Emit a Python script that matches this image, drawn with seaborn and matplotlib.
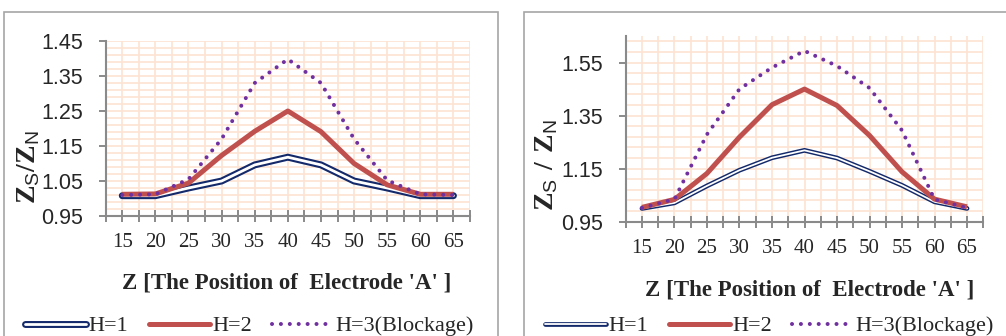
import numpy as np
import pandas as pd
import matplotlib
matplotlib.use('Agg')
import matplotlib.pyplot as plt
import seaborn as sns
from matplotlib.lines import Line2D
from matplotlib.patches import Rectangle
from matplotlib.ticker import FixedLocator, FormatStrFormatter

# ---------------- data ----------------
z_positions = [15, 20, 25, 30, 35, 40, 45, 50, 55, 60, 65]
left_h1 = [1.008, 1.008, 1.030, 1.050, 1.096, 1.118, 1.096, 1.050, 1.030, 1.008, 1.008]
left_h2 = [1.012, 1.013, 1.044, 1.123, 1.192, 1.250, 1.191, 1.100, 1.039, 1.012, 1.012]
left_h3 = [1.010, 1.012, 1.055, 1.170, 1.330, 1.398, 1.330, 1.170, 1.052, 1.012, 1.010]
right_h1 = [1.000, 1.021, 1.085, 1.144, 1.191, 1.219, 1.190, 1.140, 1.087, 1.025, 1.000]
right_h2 = [1.004, 1.034, 1.132, 1.269, 1.391, 1.450, 1.388, 1.275, 1.138, 1.035, 1.006]
right_h3 = [1.002, 1.035, 1.279, 1.450, 1.531, 1.594, 1.537, 1.454, 1.294, 1.034, 1.002]
series_labels = ['H=1', 'H=2', 'H=3(Blockage)']
x_tick_labels = ['15', '20', '25', '30', '35', '40', '45', '50', '55', '60', '65']
xlabel_text = "Z [The Position of  Electrode 'A' ]"
left_ylabel = r'$\mathbf{Z}_{\mathsf{S}}\mathbf{/Z}_{\mathsf{N}}$'
right_ylabel = r'$\mathbf{Z}_{\mathsf{S}}\mathbf{\ /\ Z}_{\mathsf{N}}$'

# ---------------- style ----------------
sns.set_style('white')
plt.rcParams['font.family'] = ['Liberation Serif', 'DejaVu Serif']
plt.rcParams['mathtext.fontset'] = 'custom'
plt.rcParams['mathtext.rm'] = 'Liberation Serif'
plt.rcParams['mathtext.bf'] = 'Liberation Serif:bold'
plt.rcParams['mathtext.sf'] = 'Liberation Sans'

NAVY = '#13296A'
RED = '#C0504D'
PURPLE = '#7030A0'
GRID = '#FCE3D2'
AXC = '#8A8A8A'
DOTS = (0, (0.01, 2.2))

W, H = 1006, 336
fig = plt.figure(figsize=(W / 100, H / 100), dpi=100)

def px_axes(l, t, r, b):
    return fig.add_axes([l / W, (H - b) / H, (r - l) / W, (b - t) / H])

# outer chart frames
for (fx0, fx1) in [(4, 498), (524, 1012)]:
    fig.patches.append(Rectangle((fx0 / W, -0.05), (fx1 - fx0) / W, (H - 12) / H + 0.05,
                                 transform=fig.transFigure, fill=False,
                                 edgecolor='#A6A6A6', linewidth=1.2))


def panel(ax, h1, h2, h3, ymax, ymajor, yminor, ylabel, ylab_xy, xlab_xy,
          h1_outer, h1_inner, legend_x):
    x = np.array(z_positions)
    df = pd.DataFrame({'z': x, 'h1': h1, 'h2': h2, 'h3': h3})
    sns.lineplot(data=df, x='z', y='h1', ax=ax, color=NAVY, linewidth=h1_outer,
                 solid_capstyle='round', solid_joinstyle='miter', zorder=3)
    sns.lineplot(data=df, x='z', y='h1', ax=ax, color='white', linewidth=h1_inner,
                 solid_capstyle='round', zorder=3.1)
    sns.lineplot(data=df, x='z', y='h2', ax=ax, color=RED, linewidth=3.6,
                 solid_capstyle='butt', zorder=4)
    sns.lineplot(data=df, x='z', y='h3', ax=ax, color=PURPLE, linewidth=2.9,
                 linestyle=DOTS, dash_capstyle='round', zorder=5)

    ax.set_xlim(12.5, 67.5)
    ax.set_ylim(0.95, ymax)
    ax.xaxis.set_major_locator(FixedLocator(z_positions))
    ax.set_xticklabels(x_tick_labels)
    ax.xaxis.set_minor_locator(FixedLocator(np.arange(12.5, 67.6, 5.0)))
    ymaj = np.round(np.arange(0.95, ymax + 1e-9, ymajor), 3)
    ymin = np.round(np.arange(0.95, ymax + 1e-9, yminor), 3)
    ax.yaxis.set_major_locator(FixedLocator(ymaj))
    ax.yaxis.set_minor_locator(FixedLocator(ymin))
    ax.yaxis.set_major_formatter(FormatStrFormatter('%.2f'))

    ax.grid(True, which='both', color=GRID, linewidth=1.2)
    ax.set_axisbelow(True)
    for s in ['top', 'right']:
        ax.spines[s].set_visible(False)
    for s in ['left', 'bottom']:
        ax.spines[s].set_color(AXC)
        ax.spines[s].set_linewidth(1.5)

    ax.tick_params(axis='x', which='both', direction='inout', length=9, width=1.4,
                   color=AXC, pad=8, labelsize=15, bottom=True)
    ax.tick_params(axis='y', which='major', direction='out', length=5, width=1.4,
                   color=AXC, pad=11, labelsize=15.5, left=True)
    ax.tick_params(axis='y', which='minor', length=0, left=False)
    for lab in ax.get_yticklabels():
        lab.set_family('Liberation Sans')
    for lab in ax.get_xticklabels():
        lab.set_family('Liberation Serif')

    ax.set_xlabel('')
    ax.set_ylabel('')
    ax.text(xlab_xy[0], xlab_xy[1], xlabel_text, transform=ax.transAxes,
            ha='center', va='center', fontsize=16.5, fontweight='bold',
            family='Liberation Serif')
    ax.text(ylab_xy[0], ylab_xy[1], ylabel, transform=ax.transAxes,
            ha='center', va='center', rotation=90, fontsize=20)

    handles = [
        (Line2D([], [], color=NAVY, linewidth=h1_outer, solid_capstyle='round'),
         Line2D([], [], color='white', linewidth=h1_inner, solid_capstyle='round')),
        Line2D([], [], color=RED, linewidth=3.6),
        Line2D([], [], color=PURPLE, linewidth=2.9, linestyle=DOTS, dash_capstyle='round'),
    ]
    ax.legend(handles, series_labels, loc='center left',
              bbox_to_anchor=(legend_x / W, 1 - 326 / H), bbox_transform=fig.transFigure,
              ncol=3, frameon=False, borderpad=0, borderaxespad=0,
              handlelength=2.75, handletextpad=0.12, columnspacing=0.9,
              prop={'family': 'Liberation Serif', 'size': 16})


ax_left = px_axes(105.7, 41, 470, 216)
panel(ax_left, left_h1, left_h2, left_h3, 1.45, 0.1, 0.02, left_ylabel,
      (-0.213, 0.28), (0.498, -0.383), 5.0, 2.0, 25)

ax_right = px_axes(625.7, 36, 983.3, 221.7)
panel(ax_right, right_h1, right_h2, right_h3, 1.65, 0.2, 0.04, right_ylabel,
      (-0.22, 0.305), (0.515, -0.368), 3.4, 1.3, 545)

fig.savefig('out.png', dpi=100)
